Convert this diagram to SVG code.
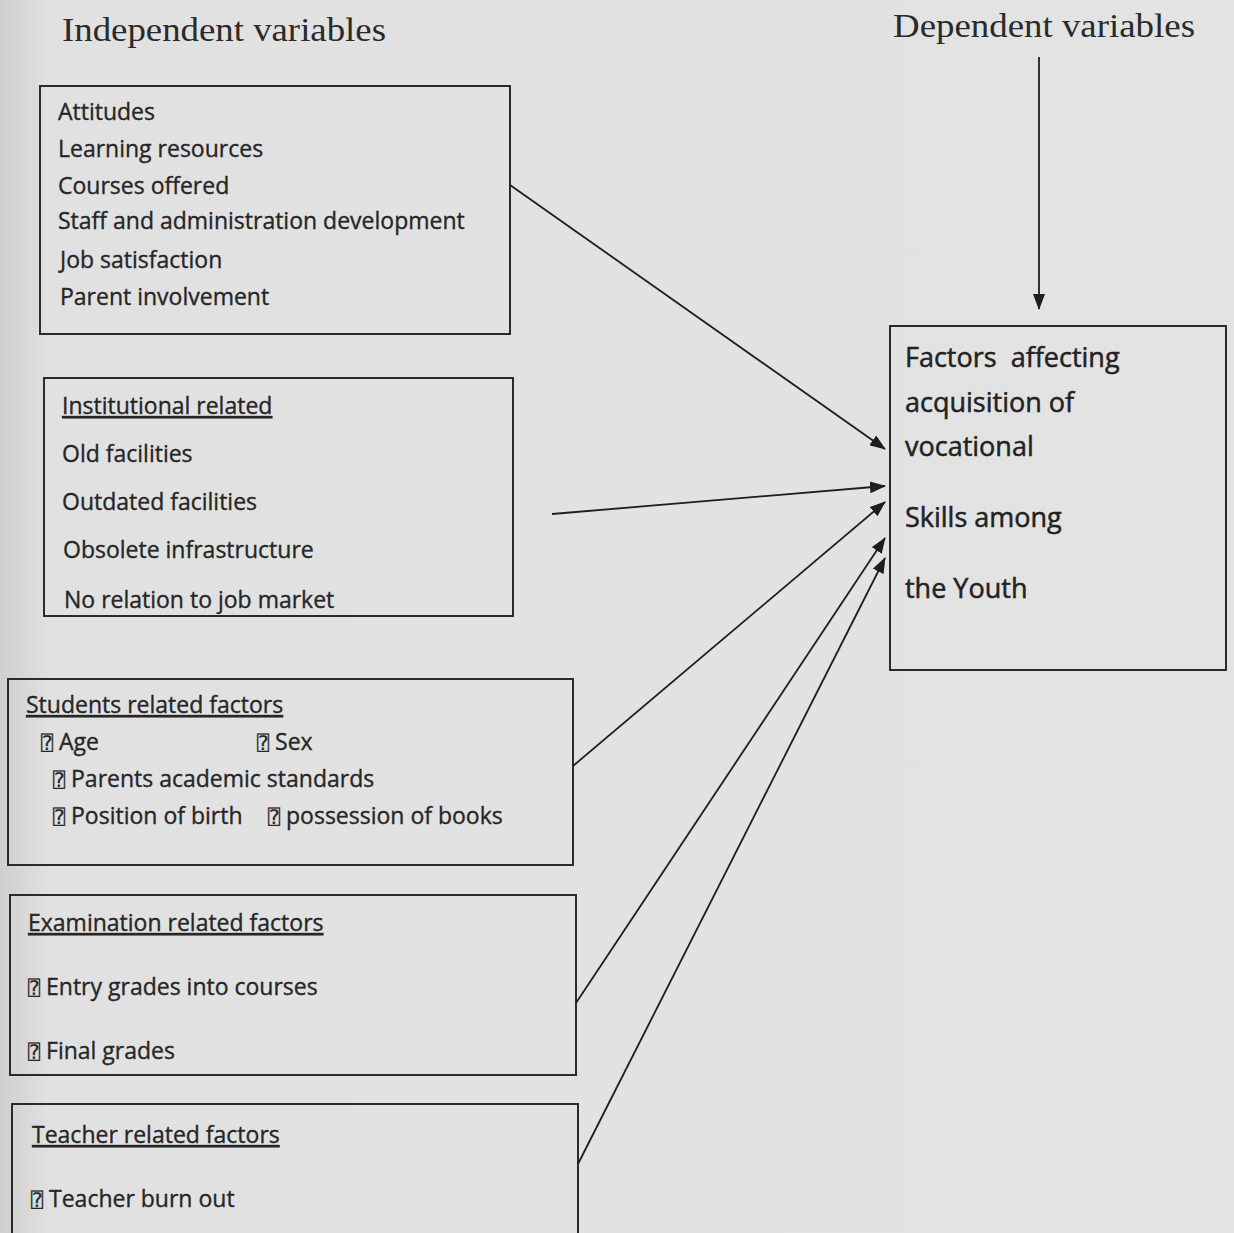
<svg xmlns="http://www.w3.org/2000/svg" width="1234" height="1233" viewBox="0 0 1234 1233">
<style>
.box{fill:none;stroke:#2b2b2b;stroke-width:2}
.t{font-family:"Open Sans","Noto Sans",sans-serif;font-size:23px;fill:#262626;stroke:#262626;stroke-width:0.35}
.h{font-family:"Liberation Serif","Times New Roman",serif;font-size:33px;fill:#2a2a2a}
.big{font-family:"Open Sans","Noto Sans",sans-serif;font-size:27px;fill:#222;stroke:#222;stroke-width:0.5}
.u{text-decoration:underline}
.q{font-family:"DejaVu Sans Mono","DejaVu Sans",monospace;font-size:20px;stroke-width:0.2}
.c{fill:none;stroke:#1e1e1e;stroke-width:1.8}
</style>
<defs>
<linearGradient id="bg" x1="0" y1="0" x2="1" y2="0">
<stop offset="0" stop-color="#cfcfcf"/>
<stop offset="0.04" stop-color="#e1e1e1"/>
<stop offset="1" stop-color="#e3e3e3"/>
</linearGradient>
<marker id="ah" markerUnits="userSpaceOnUse" markerWidth="16" markerHeight="12" refX="15" refY="6" orient="auto">
<path d="M0,0 L16,6 L0,12 Z" fill="#1e1e1e"/>
</marker>
</defs>
<rect x="0" y="0" width="1234" height="1233" fill="url(#bg)"/>

<text class="h" x="62" y="41" textLength="324" lengthAdjust="spacingAndGlyphs">Independent variables</text>
<text class="h" x="893" y="37" textLength="302" lengthAdjust="spacingAndGlyphs">Dependent variables</text>

<g id="box-general">
<rect class="box" x="40" y="86" width="470" height="248"/>
<text class="t" x="58" y="120">Attitudes</text>
<text class="t" x="58" y="157">Learning resources</text>
<text class="t" x="58" y="194">Courses offered</text>
<text class="t" x="58" y="229">Staff and administration development</text>
<text class="t" x="60" y="268">Job satisfaction</text>
<text class="t" x="60" y="305">Parent involvement</text>
</g>

<g id="box-institutional">
<rect class="box" x="44" y="378" width="469" height="238"/>
<text class="t u" x="62" y="414">Institutional related</text>
<text class="t" x="62" y="462">Old facilities</text>
<text class="t" x="62" y="510">Outdated facilities</text>
<text class="t" x="63" y="558">Obsolete infrastructure</text>
<text class="t" x="64" y="608">No relation to job market</text>
</g>

<g id="box-students">
<rect class="box" x="8" y="679" width="565" height="186"/>
<text class="t u" x="26" y="713">Students related factors</text>
<text class="t" x="41" y="750"><tspan class="q">⍰</tspan> Age</text>
<text class="t" x="257" y="750"><tspan class="q">⍰</tspan> Sex</text>
<text class="t" x="53" y="787"><tspan class="q">⍰</tspan> Parents academic standards</text>
<text class="t" x="53" y="824"><tspan class="q">⍰</tspan> Position of birth</text>
<text class="t" x="268" y="824"><tspan class="q">⍰</tspan> possession of books</text>
</g>

<g id="box-examination">
<rect class="box" x="10" y="895" width="566" height="180"/>
<text class="t u" x="28" y="931">Examination related factors</text>
<text class="t" x="28" y="995"><tspan class="q">⍰</tspan> Entry grades into courses</text>
<text class="t" x="28" y="1059"><tspan class="q">⍰</tspan> Final grades</text>
</g>

<g id="box-teacher">
<rect class="box" x="12" y="1104" width="566" height="140"/>
<text class="t u" x="32" y="1143">Teacher related factors</text>
<text class="t" x="31" y="1207"><tspan class="q">⍰</tspan> Teacher burn out</text>
</g>

<g id="box-dependent">
<rect class="box" x="890" y="326" width="336" height="344"/>
<text class="big" x="905" y="367" xml:space="preserve">Factors  affecting</text>
<text class="big" x="905" y="412">acquisition of</text>
<text class="big" x="905" y="456">vocational</text>
<text class="big" x="905" y="527">Skills among</text>
<text class="big" x="905" y="598">the Youth</text>
</g>

<g id="connectors">
<line class="c" x1="1039" y1="57" x2="1039" y2="309" marker-end="url(#ah)"/>
<line class="c" x1="510" y1="185" x2="885" y2="449" marker-end="url(#ah)"/>
<line class="c" x1="552" y1="514" x2="885" y2="486" marker-end="url(#ah)"/>
<line class="c" x1="573" y1="766" x2="885" y2="502" marker-end="url(#ah)"/>
<line class="c" x1="576" y1="1003" x2="885" y2="538" marker-end="url(#ah)"/>
<line class="c" x1="578" y1="1164" x2="885" y2="558" marker-end="url(#ah)"/>
</g>
</svg>
